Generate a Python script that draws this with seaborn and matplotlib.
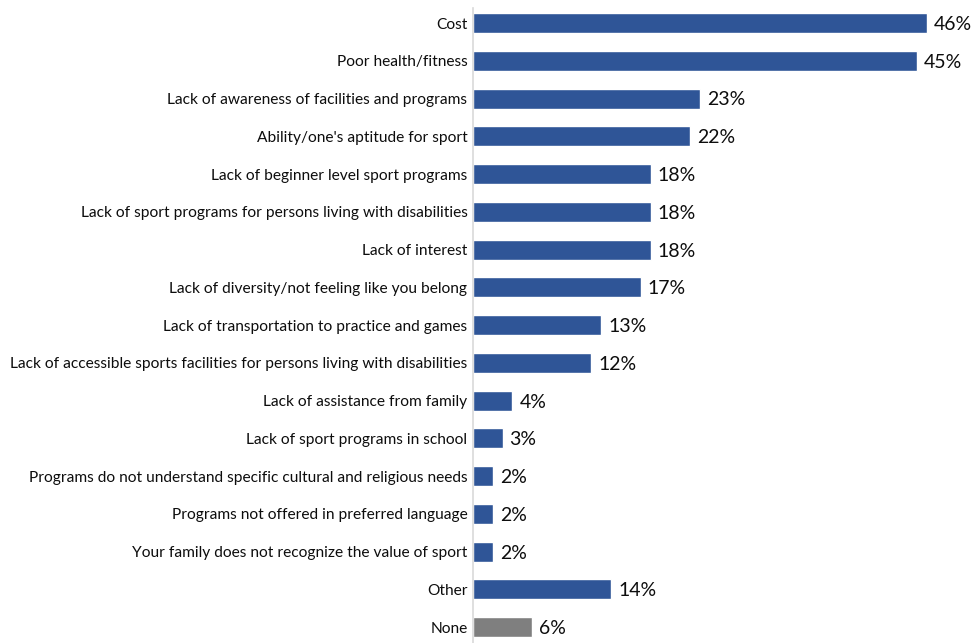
import matplotlib
matplotlib.use("Agg")
import matplotlib.pyplot as plt
import seaborn as sns
import pandas as pd

categories = [
    "Cost",
    "Poor health/fitness",
    "Lack of awareness of facilities and programs",
    "Ability/one's aptitude for sport",
    "Lack of beginner level sport programs",
    "Lack of sport programs for persons living with disabilities",
    "Lack of interest",
    "Lack of diversity/not feeling like you belong",
    "Lack of transportation to practice and games",
    "Lack of accessible sports facilities for persons living with disabilities",
    "Lack of assistance from family",
    "Lack of sport programs in school",
    "Programs do not understand specific cultural and religious needs",
    "Programs not offered in preferred language",
    "Your family does not recognize the value of sport",
    "Other",
    "None",
]
values = [46, 45, 23, 22, 18, 18, 18, 17, 13, 12, 4, 3, 2, 2, 2, 14, 6]
bar_colors = ["#2F5597"] * 16 + ["#7F7F7F"]

df = pd.DataFrame({"barrier": categories, "pct": values})

sns.set_theme(style="white")
plt.rcParams["font.family"] = ["Lato", "DejaVu Sans"]

fig = plt.figure(figsize=(9.77, 6.43), dpi=100)
ax = fig.add_axes([473 / 977, 0, 503 / 977, 635 / 643])

sns.barplot(data=df, x="pct", y="barrier", hue="barrier", palette=bar_colors,
            legend=False, width=0.53, ax=ax, orient="h", saturation=1)

ax.set_xlim(0, 51)
ax.set_ylim(16.42, -0.4)
ax.set_xlabel("")
ax.set_ylabel("")
ax.set_xticks([])
ax.tick_params(axis="y", length=0, pad=4, labelsize=11.2, labelcolor="#0D0D0D")
for side in ["top", "right", "bottom"]:
    ax.spines[side].set_visible(False)
ax.spines["left"].set_color("#D9D9D9")
ax.spines["left"].set_linewidth(1.2)

for i, v in enumerate(values):
    ax.annotate(f"{v}%", xy=(v, i), xytext=(5, -1), textcoords="offset points",
                va="center", ha="left", fontsize=14, color="#0D0D0D")

fig.savefig("out.png", dpi=100)
